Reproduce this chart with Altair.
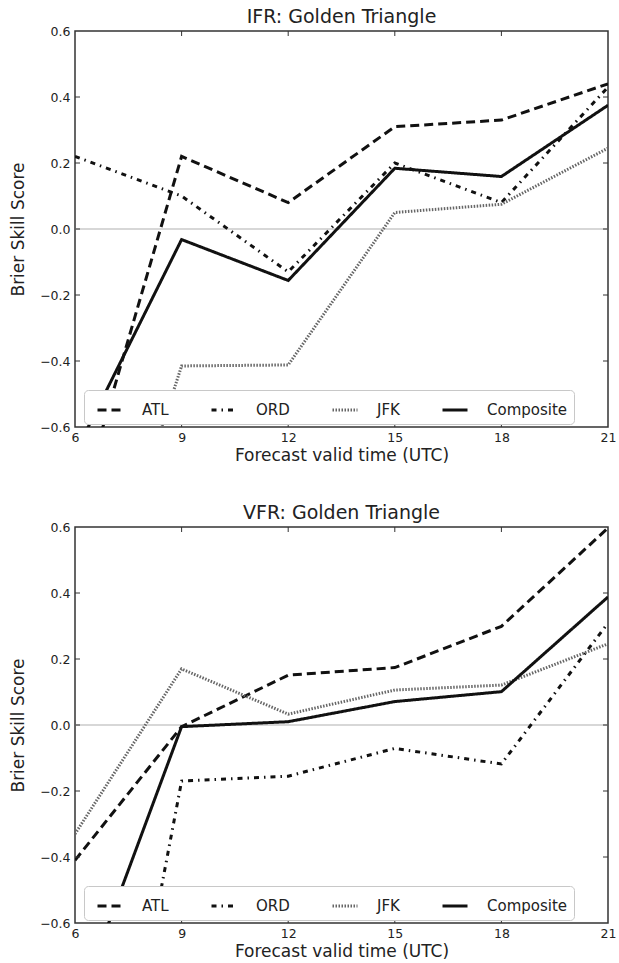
import altair as alt
import pandas as pd

hours = [6, 9, 12, 15, 18, 21]
series = ["ATL", "ORD", "JFK", "Composite"]

ifr_atl = [-0.89, 0.22, 0.08, 0.31, 0.33, 0.44]
ifr_ord = [0.22, 0.10, -0.13, 0.20, 0.08, 0.43]
ifr_jfk = [-1.41, -0.415, -0.412, 0.05, 0.075, 0.245]
ifr_comp = [-0.68, -0.032, -0.156, 0.184, 0.159, 0.375]

vfr_atl = [-0.41, -0.005, 0.151, 0.174, 0.299, 0.597]
vfr_ord = [-1.87, -0.17, -0.155, -0.071, -0.118, 0.309]
vfr_jfk = [-0.33, 0.17, 0.033, 0.106, 0.121, 0.246]
vfr_comp = [-0.875, -0.005, 0.01, 0.071, 0.101, 0.388]

x_ticks = [6, 9, 12, 15, 18, 21]
y_ticks = [-0.6, -0.4, -0.2, 0.0, 0.2, 0.4, 0.6]

W, H = 533, 396
FONT = "DejaVu Sans"


def long_df(vals):
    rows = []
    for name, v in zip(series, vals):
        for h, y in zip(hours, v):
            rows.append({"hour": h, "score": y, "station": name})
    return pd.DataFrame(rows)


def panel(title, vals):
    df = long_df(vals)
    xs = alt.Scale(domain=[6, 21], nice=False, zero=False)
    ys = alt.Scale(domain=[-0.6, 0.6], nice=False, zero=False)
    axis_common = dict(ticks=False, domain=False, grid=False, labelFlush=False,
                       labelFont=FONT, titleFont=FONT, labelFontSize=12.5,
                       titleFontSize=17, titleFontWeight="normal",
                       labelColor="#222222", titleColor="#222222")
    x_enc = alt.X("hour:Q", scale=xs,
                  axis=alt.Axis(values=x_ticks, title="Forecast valid time (UTC)",
                                labelPadding=4, titlePadding=4, **axis_common))
    y_enc = alt.Y("score:Q", scale=ys,
                  axis=alt.Axis(values=y_ticks, title="Brier Skill Score", format=".1f",
                                labelPadding=5, titlePadding=12, **axis_common))

    zero = alt.Chart(pd.DataFrame({"z": [0.0]})).mark_rule(
        color="#b0b0b0", strokeWidth=1.2).encode(
        y=alt.Y("z:Q", scale=ys), x=alt.value(0), x2=alt.value(W))

    xt = pd.DataFrame({"t": x_ticks[1:-1]})
    yt = pd.DataFrame({"t": y_ticks[1:-1]})
    tick_style = dict(color="#333333", strokeWidth=1)
    xb = alt.Chart(xt).mark_rule(**tick_style).encode(
        x=alt.X("t:Q", scale=xs), y=alt.value(H), y2=alt.value(H - 5))
    xtop = alt.Chart(xt).mark_rule(**tick_style).encode(
        x=alt.X("t:Q", scale=xs), y=alt.value(0), y2=alt.value(5))
    yl = alt.Chart(yt).mark_rule(**tick_style).encode(
        y=alt.Y("t:Q", scale=ys), x=alt.value(0), x2=alt.value(5))
    yr = alt.Chart(yt).mark_rule(**tick_style).encode(
        y=alt.Y("t:Q", scale=ys), x=alt.value(W - 5), x2=alt.value(W))

    legend = alt.Legend(
        title=None, orient="none", legendX=9, legendY=359,
        direction="horizontal", columns=4, gridAlign="each",
        symbolType="stroke", symbolSize=625, symbolStrokeWidth=3,
        labelFont=FONT, labelFontSize=15, labelColor="#222222",
        labelOffset=18, columnPadding=35,
        padding=6, strokeColor="#c8c8c8", fillColor="white",
        cornerRadius=4, symbolOffset=6, labelLimit=200)

    lines = alt.Chart(df).mark_line(clip=True, strokeCap="butt").encode(
        x=x_enc, y=y_enc,
        detail="station:N",
        color=alt.Color("station:N",
                        scale=alt.Scale(domain=series,
                                        range=["#111111", "#111111", "#666666", "#111111"]),
                        legend=legend),
        strokeDash=alt.StrokeDash("station:N",
                                  scale=alt.Scale(domain=series,
                                                  range=[[9, 5], [5, 5, 1.5, 5], [1.5, 1.5], [1, 0]]),
                                  legend=legend),
        strokeWidth=alt.StrokeWidth("station:N",
                                    scale=alt.Scale(domain=series, range=[3, 3, 2, 2.6]),
                                    legend=None),
    )

    return alt.layer(zero, lines, xb, xtop, yl, yr).properties(
        width=W, height=H,
        title=alt.Title(title, font=FONT, fontSize=19, fontWeight="normal",
                        color="#222222", offset=-2))


top = panel("IFR: Golden Triangle", [ifr_atl, ifr_ord, ifr_jfk, ifr_comp])
bottom = panel("VFR: Golden Triangle", [vfr_atl, vfr_ord, vfr_jfk, vfr_comp])

chart = alt.vconcat(top, bottom, spacing=38).resolve_scale(
    color="independent", strokeDash="independent", strokeWidth="independent"
).properties(
    padding={"left": 8, "top": 7, "right": 0, "bottom": 0},
    background="white"
).configure_view(
    stroke="#333333", strokeWidth=1.5
)

chart.save("out.html", embed_options={"renderer": "svg", "actions": False})
